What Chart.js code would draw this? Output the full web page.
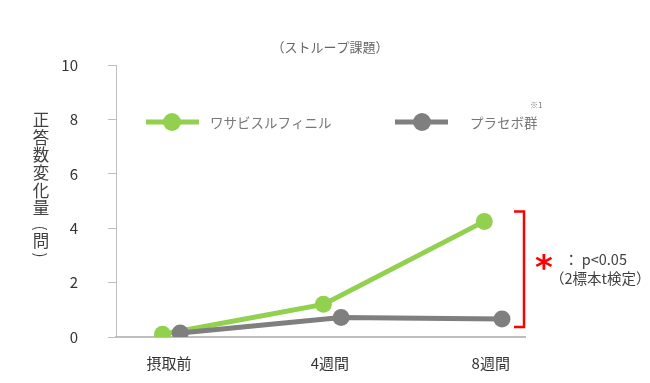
<!DOCTYPE html>
<html><head><meta charset="utf-8">
<script src="https://cdn.jsdelivr.net/npm/chart.js@4"></script>
<style>html,body{margin:0;padding:0;background:#fff}#wrap{width:650px;height:383px;position:relative}</style>
</head><body><div id="wrap"><canvas id="c" width="650" height="383"></canvas></div>
<script>
const categories = ["摂取前", "4週間", "8週間"];
const seriesNames = ["ワサビスルフィニル", "プラセボ群"];
const wasabiValues = [0.1, 1.2, 4.25];
const placeboValues = [0.15, 0.72, 0.66];
const yTicks = [0, 2, 4, 6, 8, 10];
const chartTitle = "（ストループ課題）";
const yTitle = ["正","答","数","変","化","量","(","問",")"];
const sigMark = "*";
const sigLines = ["： p<0.05", "（2標本t検定）"];
const noteMark = "※1";

const FONT = "'Noto Sans CJK JP', 'Noto Sans', sans-serif";
const GREEN = "#92d050", GRAY = "#7f7f7f", TXT = "#404040";
const dodge = [-0.04, 0.07];
const yTitlePos = [120, 137.6, 155.2, 172.8, 190.4, 208, 228, 241, 255];

function pts(vals, k){ return vals.map((v,i)=>({x:i+dodge[k], y:v})); }

const overlay = {
  id:'overlay',
  afterDraw(chart){
    const ctx = chart.ctx, ys = chart.scales.y;
    ctx.save();
    ctx.fillStyle = "#666"; ctx.font = "13px "+FONT; ctx.textAlign="center"; ctx.textBaseline="middle";
    ctx.fillText(chartTitle, 330, 47);
    ctx.fillStyle = TXT; ctx.font = "16.5px "+FONT;
    yTitle.forEach((ch,i)=>{
      if (ch === "(" || ch === ")") {
        ctx.save(); ctx.translate(41, yTitlePos[i]); ctx.rotate(Math.PI/2);
        ctx.font = "15px "+FONT; ctx.fillText(ch, 0, 0); ctx.restore();
      } else ctx.fillText(ch, 41, yTitlePos[i]);
    });
    const leg = [[GREEN, 146, 199, 172, 210, seriesNames[0]], [GRAY, 395, 448, 422, 470, seriesNames[1]]];
    leg.forEach(([c,x1,x2,cx,tx,t])=>{
      ctx.strokeStyle=c; ctx.lineWidth=5; ctx.beginPath(); ctx.moveTo(x1,122); ctx.lineTo(x2,122); ctx.stroke();
      ctx.fillStyle=c; ctx.beginPath(); ctx.arc(cx,122,9,0,Math.PI*2); ctx.fill();
      ctx.fillStyle="#777"; ctx.font="13.5px "+FONT; ctx.textAlign="left"; ctx.fillText(t, tx, 123);
    });
    ctx.font="8px "+FONT; ctx.fillStyle="#777"; ctx.fillText(noteMark, 530, 105);
    const top = ys.getPixelForValue(wasabiValues[2]) - 10, bot = ys.getPixelForValue(placeboValues[2]) + 8;
    ctx.strokeStyle="#ff0000"; ctx.lineWidth=2.5; ctx.beginPath();
    ctx.moveTo(514, top); ctx.lineTo(524, top); ctx.lineTo(524, bot); ctx.lineTo(514, bot); ctx.stroke();
    ctx.fillStyle="#ff0000"; ctx.font="bold 34px 'DejaVu Sans', sans-serif"; ctx.textAlign="center";
    ctx.fillText(sigMark, 544, 270);
    ctx.fillStyle=TXT; ctx.font="14.5px "+FONT; ctx.textAlign="left";
    ctx.fillText(sigLines[0], 564, 259);
    ctx.fillText(sigLines[1], 550, 278);
    ctx.restore();
  }
};

new Chart(document.getElementById('c'), {
  type:'line',
  data:{datasets:[
    {label:seriesNames[1], data:pts(placeboValues,1), borderColor:GRAY, backgroundColor:GRAY, borderWidth:5, pointRadius:8.5, pointHoverRadius:8.5, pointBorderWidth:0},
    {label:seriesNames[0], data:pts(wasabiValues,0), borderColor:GREEN, backgroundColor:GREEN, borderWidth:5, pointRadius:8.5, pointHoverRadius:8.5, pointBorderWidth:0}
  ]},
  options:{
    responsive:false, animation:false, events:[],
    layout:{padding:{top:65, right:125, left:0, bottom:0}},
    plugins:{legend:{display:false}, tooltip:{enabled:false}},
    scales:{
      x:{type:'linear', min:-0.329, max:2.213,
        afterBuildTicks(s){ s.ticks = categories.map((c,i)=>({value:i})); },
        afterFit(s){ s.height = 46; },
        ticks:{callback:(v)=>categories[v], color:"#333", font:{family:FONT, size:15}, padding:17, maxRotation:0, autoSkip:false},
        grid:{display:true, drawOnChartArea:false, drawTicks:false, color:"#bfbfbf"},
        border:{color:"#bfbfbf", width:2}
      },
      y:{min:0, max:10,
        afterBuildTicks(s){ s.ticks = yTicks.map(v=>({value:v})); },
        afterFit(s){ s.width = 116; },
        ticks:{color:"#333", font:{family:FONT, size:15}, padding:30},
        grid:{display:true, drawOnChartArea:false, drawTicks:true, tickLength:8, color:"#bfbfbf", lineWidth:1},
        border:{color:"#bfbfbf", width:1}
      }
    }
  },
  plugins:[overlay]
});
</script></body></html>
